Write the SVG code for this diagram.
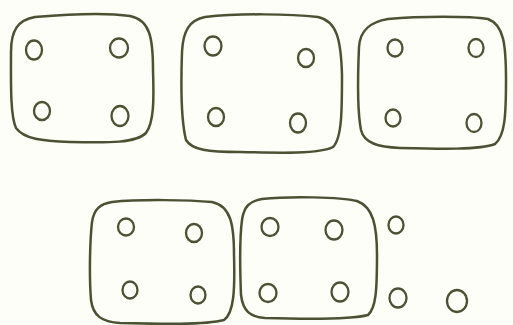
<svg xmlns="http://www.w3.org/2000/svg" width="513" height="325" viewBox="0 0 513 325">
<style>
.b{fill:none;stroke:#4b5233;stroke-width:2.5;stroke-linejoin:round;stroke-linecap:round}
.c{fill:none;stroke:#4b5233;stroke-width:2.3}
</style>
<rect width="513" height="325" fill="#fefef8"/>
<g id="box1">
<path class="b" d="M35 17 C70 14 110 13 130 16 C150 20 153 38 153 70 C154 100 154 122 146 133 C136 143 110 143 70 142 C42 141 24 139 16 128 C10 115 11 80 11 52 C11 30 18 20 35 17 Z"/>
<ellipse class="c" cx="34" cy="50" rx="8" ry="9.5"/>
<ellipse class="c" cx="119" cy="48" rx="9" ry="9.5"/>
<ellipse class="c" cx="42" cy="111" rx="8" ry="9"/>
<ellipse class="c" cx="120" cy="116" rx="8.5" ry="10"/>
</g>
<g id="box2">
<path class="b" d="M205 17 C240 13 290 14 318 17 C337 21 341 40 342 75 C342 110 342 138 333 147 C320 154 280 153 240 152 C208 152 192 150 186 140 C181 120 181 80 182 52 C183 30 190 20 205 17 Z"/>
<ellipse class="c" cx="213" cy="46" rx="8.5" ry="9.5"/>
<ellipse class="c" cx="306" cy="58" rx="8" ry="9"/>
<ellipse class="c" cx="216" cy="117" rx="8" ry="9"/>
<ellipse class="c" cx="298" cy="123" rx="8" ry="9.5"/>
</g>
<g id="box3">
<path class="b" d="M388 19 C420 16 470 16 488 19 C504 25 506 45 506 80 C506 115 505 136 495 144 C480 150 440 149 400 148 C378 147 364 143 361 130 C357 110 358 70 359 47 C360 30 370 22 388 19 Z"/>
<ellipse class="c" cx="395" cy="48" rx="7.5" ry="8.5"/>
<ellipse class="c" cx="476" cy="48" rx="7.5" ry="9"/>
<ellipse class="c" cx="393" cy="118" rx="7.5" ry="8.5"/>
<ellipse class="c" cx="474" cy="123" rx="7.5" ry="9"/>
</g>
<g id="box4">
<path class="b" d="M112 202 C140 199 190 200 212 202 C231 206 234 225 234 255 C235 290 234 313 224 320 C205 325 160 324 120 323 C102 322 93 316 91 300 C89 275 90 240 92 222 C94 209 100 204 112 202 Z"/>
<ellipse class="c" cx="126" cy="227" rx="8" ry="8.5"/>
<ellipse class="c" cx="194" cy="233" rx="8" ry="9"/>
<ellipse class="c" cx="130" cy="290" rx="7.5" ry="8.5"/>
<ellipse class="c" cx="198" cy="295" rx="7.5" ry="8.5"/>
</g>
<g id="box5">
<path class="b" d="M262 199 C290 196 340 197 357 201 C373 207 377 225 377 255 C377 290 376 308 368 315 C350 320 300 319 265 318 C250 317 243 311 241 295 C240 270 240 235 242 220 C244 206 250 201 262 199 Z"/>
<ellipse class="c" cx="270" cy="227" rx="8.5" ry="9"/>
<ellipse class="c" cx="334" cy="230" rx="8.5" ry="9.5"/>
<ellipse class="c" cx="268" cy="293" rx="8.5" ry="9"/>
<ellipse class="c" cx="340" cy="292" rx="8.5" ry="9.5"/>
</g>
<g id="loose">
<ellipse class="c" cx="396" cy="225" rx="7.5" ry="8.5"/>
<ellipse class="c" cx="398" cy="298" rx="8.5" ry="9.5"/>
<ellipse class="c" cx="457" cy="301" rx="10" ry="11"/>
</g>
</svg>
